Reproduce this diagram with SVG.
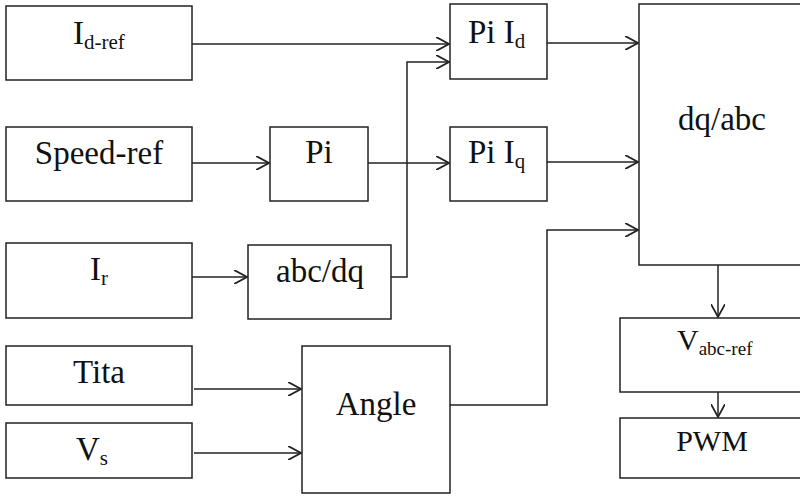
<svg xmlns="http://www.w3.org/2000/svg" width="800" height="496" viewBox="0 0 800 496" font-family="Liberation Serif, DejaVu Serif, serif">
<style>
.box{fill:#fff;stroke:#222;stroke-width:1.5}
.t{font-size:33px;fill:#111}
.s{font-size:21px}
.w{fill:none;stroke:#222;stroke-width:1.5}
</style>
<defs>
<marker id="ah" markerUnits="userSpaceOnUse" markerWidth="14" markerHeight="14" refX="11" refY="6" orient="auto" viewBox="0 0 12 12">
<path d="M0,0 L11,6 L0,12" fill="none" stroke="#222" stroke-width="1.5"/>
</marker>
</defs>
<rect width="800" height="496" fill="#fff"/>
<g id="connectors">
<line class="w" x1="192" y1="44" x2="449" y2="44" marker-end="url(#ah)"/>
<line class="w" x1="547" y1="43" x2="638" y2="43" marker-end="url(#ah)"/>
<line class="w" x1="192" y1="163" x2="269" y2="163" marker-end="url(#ah)"/>
<line class="w" x1="368" y1="163" x2="449" y2="163" marker-end="url(#ah)"/>
<line class="w" x1="547" y1="162" x2="638" y2="162" marker-end="url(#ah)"/>
<line class="w" x1="192" y1="277" x2="247" y2="277" marker-end="url(#ah)"/>
<polyline class="w" points="391,277 407,277 407,62 449,62" marker-end="url(#ah)"/>
<polyline class="w" points="450,405 547,405 547,230 638,230" marker-end="url(#ah)"/>
<line class="w" x1="194" y1="389" x2="301" y2="389" marker-end="url(#ah)"/>
<line class="w" x1="194" y1="453" x2="301" y2="453" marker-end="url(#ah)"/>
<line class="w" x1="718" y1="265" x2="718" y2="317" marker-end="url(#ah)"/>
<line class="w" x1="718" y1="392" x2="718" y2="417" marker-end="url(#ah)"/>
</g>
<g id="idref"><rect class="box" x="6" y="6" width="186" height="74"/><text class="t" font-family="Liberation Serif" x="73" y="44">I<tspan class="s" dy="5">d-ref</tspan></text></g>
<g id="speedref"><rect class="box" x="6" y="127" width="186" height="74"/><text class="t" font-family="Liberation Serif" x="99" y="164" text-anchor="middle">Speed-ref</text></g>
<g id="pi"><rect class="box" x="270" y="127" width="98" height="74"/><text class="t" font-family="Liberation Serif" x="319" y="163" text-anchor="middle">Pi</text></g>
<g id="ir"><rect class="box" x="6" y="243" width="186" height="75"/><text class="t" font-family="Liberation Serif" x="90" y="280">I<tspan class="s" dy="5">r</tspan></text></g>
<g id="abcdq"><rect class="box" x="248" y="245" width="143" height="74"/><text class="t" font-family="Liberation Serif" x="320" y="282" text-anchor="middle">abc/dq</text></g>
<g id="tita"><rect class="box" x="6" y="346" width="186" height="59"/><text class="t" font-family="Liberation Serif" x="99" y="383" text-anchor="middle">Tita</text></g>
<g id="vs"><rect class="box" x="6" y="423" width="186" height="55"/><text class="t" font-family="Liberation Serif" x="76" y="460">V<tspan class="s" dy="5">s</tspan></text></g>
<g id="angle"><rect class="box" x="302" y="346" width="148" height="147"/><text class="t" font-family="Liberation Serif" x="376" y="415" text-anchor="middle">Angle</text></g>
<g id="piid"><rect class="box" x="450" y="4" width="97" height="75"/><text class="t" font-family="Liberation Serif" x="468" y="43">Pi I<tspan class="s" dy="5">d</tspan></text></g>
<g id="piiq"><rect class="box" x="450" y="127" width="97" height="74"/><text class="t" font-family="Liberation Serif" x="468" y="163">Pi I<tspan class="s" dy="5">q</tspan></text></g>
<g id="dqabc"><rect class="box" x="639" y="4" width="170" height="261"/><text class="t" font-family="Liberation Serif" x="722" y="130" text-anchor="middle">dq/abc</text></g>
<g id="vabcref"><rect class="box" x="620" y="318" width="190" height="74"/><text class="t" font-family="Liberation Serif" style="font-size:30px" x="677" y="350">V<tspan style="font-size:19px" dy="5">abc-ref</tspan></text></g>
<g id="pwm"><rect class="box" x="620" y="418" width="190" height="60"/><text class="t" font-family="Liberation Serif" style="font-size:30px" x="712" y="451" text-anchor="middle">PWM</text></g>
</svg>
